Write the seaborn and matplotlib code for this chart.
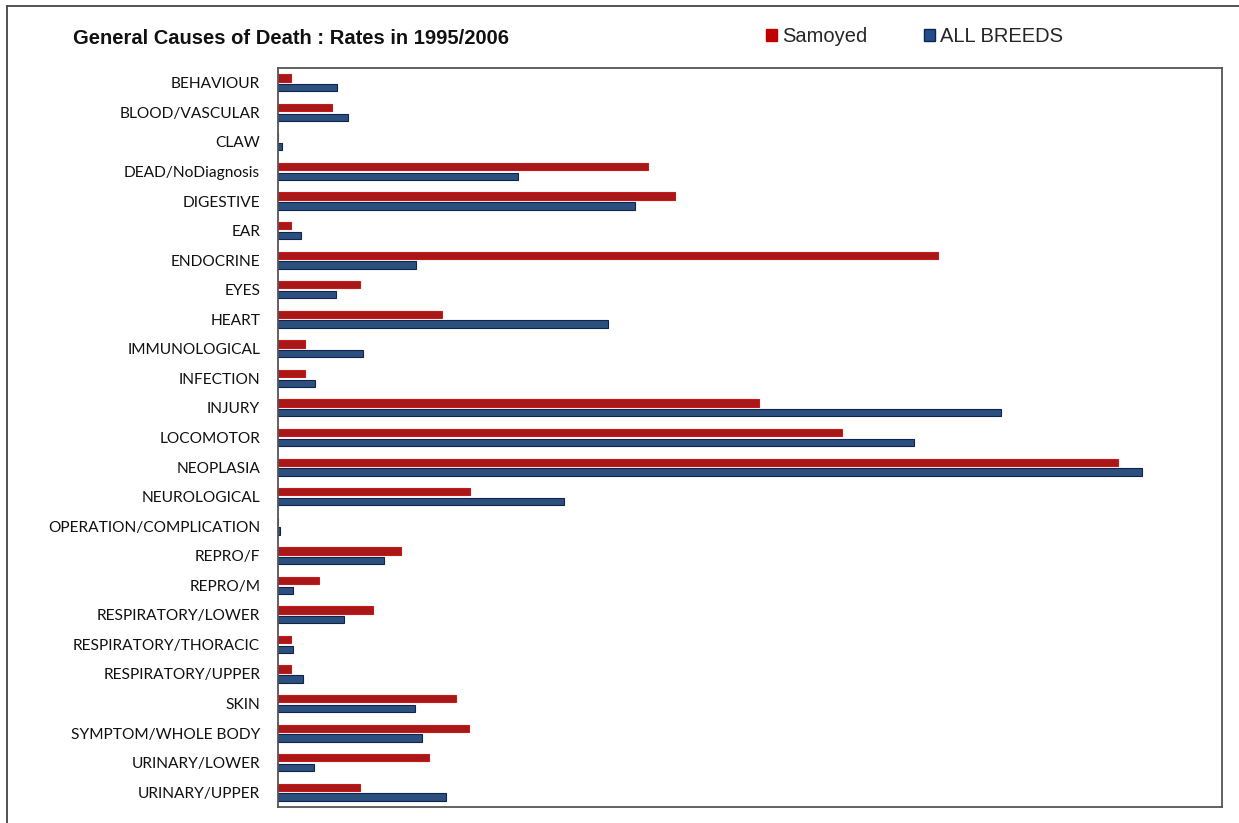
import matplotlib
matplotlib.use("Agg")
import matplotlib.pyplot as plt
from matplotlib.lines import Line2D
from matplotlib.patches import Patch
import seaborn as sns
import pandas as pd

categories = [
    "BEHAVIOUR", "BLOOD/VASCULAR", "CLAW", "DEAD/NoDiagnosis", "DIGESTIVE",
    "EAR", "ENDOCRINE", "EYES", "HEART", "IMMUNOLOGICAL", "INFECTION",
    "INJURY", "LOCOMOTOR", "NEOPLASIA", "NEUROLOGICAL",
    "OPERATION/COMPLICATION", "REPRO/F", "REPRO/M", "RESPIRATORY/LOWER",
    "RESPIRATORY/THORACIC", "RESPIRATORY/UPPER", "SKIN",
    "SYMPTOM/WHOLE BODY", "URINARY/LOWER", "URINARY/UPPER",
]

samoyed = [13, 54, 0, 370, 397, 13, 660, 82, 164, 27, 27, 481, 564, 840,
           192, 0, 123, 41, 95, 13, 13, 178, 191, 151, 82]
all_breeds = [59, 70, 4, 240, 357, 23, 138, 58, 330, 85, 37, 723, 636, 864,
              286, 2, 106, 15, 66, 15, 25, 137, 144, 36, 168]

series_names = ["Samoyed", "ALL BREEDS"]
fill_colors = {"Samoyed": "#C00000", "ALL BREEDS": "#1F4E8A"}
edge_colors = {"Samoyed": "#C81818", "ALL BREEDS": "#0E2350"}

df = pd.DataFrame({
    "cause": categories * 2,
    "rate": samoyed + all_breeds,
    "series": [series_names[0]] * len(categories) + [series_names[1]] * len(categories),
})

sns.set_style("white")
plt.rcParams["font.family"] = ["DejaVu Sans"]

W, H = 1239, 823
fig = plt.figure(figsize=(W / 100, H / 100), dpi=100)
ax = fig.add_axes([278 / W, 1 - 807 / H, (1222 - 278) / W, (807 - 68) / H])

sns.barplot(data=df, y="cause", x="rate", hue="series", order=categories,
            hue_order=series_names, palette=fill_colors, orient="h",
            width=0.66, gap=0.25, ax=ax, legend=False)

for container, name in zip(ax.containers, series_names):
    for bar in container:
        bar.set_edgecolor(edge_colors[name])
        bar.set_linewidth(0.8)

ax.set_xlim(0, 944)
ax.set_ylim(len(categories) - 0.5, -0.5)
ax.set_xlabel("")
ax.set_ylabel("")
ax.set_xticks([])
ax.tick_params(axis="y", length=0, pad=12.8)
for lbl in ax.get_yticklabels():
    lbl.set_fontfamily("Lato")
    lbl.set_fontsize(11.2)
    lbl.set_color("#111111")

for side in ["left", "right", "top", "bottom"]:
    ax.spines[side].set_visible(True)
    ax.spines[side].set_color("#555555")
    ax.spines[side].set_linewidth(1.3)

fig.text(73 / W, 1 - 38 / H, "General Causes of Death : Rates in 1995/2006",
         fontsize=14.5, fontweight="bold", family="Liberation Sans",
         ha="left", va="center", color="#111111")

handles = [Patch(facecolor=fill_colors[n],
                 edgecolor=edge_colors[n] if n != "Samoyed" else fill_colors[n],
                 linewidth=1.0) for n in series_names]
fig.legend(handles, series_names, loc="center left",
           bbox_to_anchor=(748 / W, 1 - 37 / H), ncol=2, frameon=False,
           prop={"family": "Liberation Sans", "size": 14.5},
           handlelength=0.55, handleheight=0.55, handletextpad=0.25,
           columnspacing=2.8)

# outer frame of the figure (left and top edges)
fig.add_artist(Line2D([7 / W, 7 / W], [0, 1 - 6 / H], color="#444444", lw=1.3))
fig.add_artist(Line2D([7 / W, 1], [1 - 6 / H, 1 - 6 / H], color="#444444", lw=1.3))

fig.savefig("out.png", dpi=100)
